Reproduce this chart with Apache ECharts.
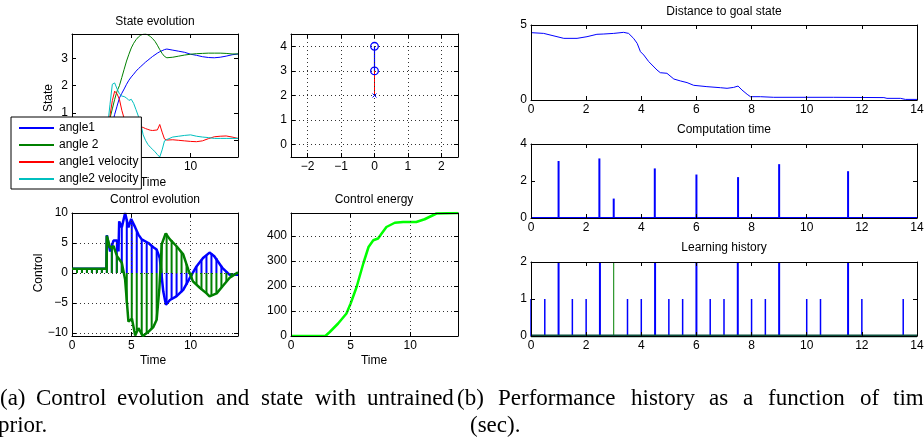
<!DOCTYPE html>
<html><head><meta charset="utf-8">
<script src="https://cdn.jsdelivr.net/npm/echarts@6/dist/echarts.min.js"></script>
<style>html,body{margin:0;padding:0;background:#fff;overflow:hidden}#c{width:924px;height:443px;}</style>
</head><body><div id="c"></div>
<script>
// ---------- data ----------
var stateTime = [0,1,2,2.8,3,3.2,3.4,3.6,3.8,4,4.2,4.4,4.6,4.8,5,5.2,5.4,5.6,5.8,6,6.2,6.4,6.6,6.8,7,7.2,7.4,7.6,7.8,8,8.5,9,9.5,10,10.5,11,11.5,12,12.5,13,13.5,14];
var angle1 = [0,0,0,0.02,0.1,0.3,0.6,0.95,1.25,1.55,1.72,1.88,2.05,2.2,2.32,2.42,2.53,2.62,2.7,2.78,2.86,2.93,3.0,3.07,3.13,3.19,3.24,3.28,3.32,3.34,3.3,3.26,3.22,3.15,3.11,3.06,3.03,3.02,3.04,3.08,3.13,3.16];
var angle2 = [0,0,0,0.05,0.2,0.8,1.15,1.5,1.8,2.0,2.3,2.6,2.9,3.15,3.38,3.55,3.68,3.78,3.85,3.88,3.89,3.86,3.8,3.72,3.62,3.48,3.32,3.18,3.07,3.02,3.04,3.08,3.12,3.15,3.17,3.18,3.19,3.19,3.19,3.18,3.16,3.16];
var angle1Vel = [0,0,0,0.05,0.3,0.9,1.45,1.8,1.7,1.5,1.1,0.8,0.65,0.6,0.58,0.56,0.54,0.52,0.5,0.47,0.43,0.4,0.37,0.36,0.37,0.38,0.58,0.3,0.05,0.01,0.02,0.0,-0.02,-0.04,-0.05,-0.02,0.06,0.13,0.15,0.16,0.12,0.07];
var angle2Vel = [0,0,0,0.05,0.5,1.3,2.05,2.1,1.88,1.7,1.62,1.6,1.55,1.46,1.5,1.35,1.12,0.88,0.62,0.2,0.0,-0.15,-0.25,-0.33,-0.42,-0.52,-0.61,-0.35,-0.02,0.03,0.12,0.15,0.18,0.2,0.15,0.12,0.1,0.07,0.07,0.07,0.07,0.07];
var stateNames = ['angle1','angle 2','angle1 velocity','angle2 velocity'];

var pendulumX = [0,0,0];
var pendulumY = [4,3,2];

var ctrlBlueT = [0,2.9,2.94,3.22,3.5,3.8,3.92,3.98,4.2,4.48,4.76,4.99,5.33,5.6,5.88,6.44,6.86,7.14,7.4,7.7,7.92,8.26,8.8,9.38,9.94,10.5,11.05,11.6,12.0,12.7,13.3,14];
var ctrlBlueV = [0.7,0.7,6.3,3.6,5.4,5.4,3.6,8.6,7.6,10.0,7.6,9.0,7.6,6.4,5.6,5.0,4.3,3.9,2.5,-3.1,-5.3,-4.5,-3.9,-2.8,-0.8,1.1,2.5,3.4,2.8,0.8,-0.3,-0.3];
var ctrlGreenT = [0,2.9,2.94,3.2,3.5,3.8,4.2,4.48,4.76,5.05,5.33,5.6,5.98,6.44,6.86,7.14,7.37,7.57,7.9,8.26,8.8,9.38,9.8,10.2,10.8,11.35,11.6,12.2,12.7,13.3,14];
var ctrlGreenV = [0.7,0.7,6.2,4.2,4.5,2.8,1.7,-1.1,-8.1,-7.6,-10.4,-9.2,-10.5,-9.8,-9.0,-7.8,-2.5,4.8,6.6,5.6,4.5,3.1,0.6,-1.4,-2.5,-3.4,-3.9,-3.4,-2.2,-0.8,0.1];
var stemT = [0.42,0.84,1.26,1.68,2.10,2.52,2.94,3.36,3.78,4.20,4.62,5.04,5.46,5.88,6.30,6.72,7.14,7.56,7.98,8.40,8.82,9.24,9.66,10.08,10.50,10.92,11.34,11.76,12.18,12.60,13.02,13.44,13.86];
var stemBlue = [0.7,0.7,0.7,0.7,0.7,0.7,6.3,5.0,5.4,7.6,9.0,8.8,7.0,5.6,5.2,4.5,3.9,-0.5,-5.2,-4.4,-3.9,-3.2,-2.0,-0.5,1.1,2.2,3.0,3.3,2.5,1.2,0.3,-0.3,-0.3];
var stemGreen = [0.7,0.7,0.7,0.7,0.7,0.7,6.2,4.4,2.8,1.7,-5.0,-7.6,-9.5,-10.4,-10.0,-9.3,-7.8,4.8,6.6,5.5,4.5,3.5,1.5,-0.9,-2.0,-2.8,-3.4,-3.8,-3.3,-2.4,-1.4,-0.7,0.0];

var energyT = [0,2.88,3.25,3.95,4.65,5.0,5.5,6.06,6.5,6.9,7.3,7.6,8.0,8.7,9.4,10.5,11.2,12.2,14];
var energyV = [0,0,16,50,90,130,196,290,356,383,390,410,436,453,456,456,467,490,492];

var distT = [0,0.46,1.19,1.67,2.03,2.39,2.64,3.0,3.36,3.54,3.72,3.85,3.97,4.09,4.27,4.57,4.69,4.93,5.18,5.42,5.66,5.9,6.38,6.87,7.11,7.35,7.51,7.65,7.84,7.96,8.32,8.8,10.98,12.8,12.91,13.4,13.58,14];
var distV = [4.49,4.44,4.11,4.11,4.22,4.38,4.4,4.44,4.51,4.44,4.11,3.78,3.22,3.0,2.56,2.0,1.82,1.78,1.4,1.27,1.16,0.98,0.89,0.82,0.78,0.84,0.93,0.67,0.38,0.22,0.22,0.18,0.18,0.16,0.11,0.11,0.04,0.04];

var compT = [1.0,2.48,3.0,4.49,6.0,7.51,9.0,11.5];
var compV = [3.08,3.22,1.05,2.68,2.35,2.21,2.91,2.53];

var learnBigT = [1.0,2.5,4.5,6.0,7.5,9.0,11.5];
var learnBigV = [2,2,2,2,2,2,2];
var learnGreenT = [3.0];
var learnGreenV = [2];
var learnSmallT = [0,0.5,1.5,2.0,3.5,4.0,5.0,5.5,6.5,7.0,8.0,8.5,10.0,10.5,12.0,13.5];
var learnSmallV = [1,1,1,1,1,1,1,1,1,1,1,1,1,1,1,1];

var titles = ['State evolution','Control evolution','Control energy','Distance to goal state','Computation time','Learning history'];
var captionA1 = ['(a)','Control','evolution','and','state','with','untrained'];
var captionA2 = 'prior.';
var captionB1 = ['(b)','Performance','history','as','a','function','of','tim'];
var captionB2 = '(sec).';

// ---------- helpers ----------
function zip(a, b) { return a.map(function (v, i) { return [v, b[i]]; }); }
var FONT = '"Liberation Sans", Arial, Helvetica, sans-serif';
var SERIF = '"Liberation Serif", "Times New Roman", serif';
function minusFmt(v) { return String(v).replace('-', '\u2212'); }

var grids = [
  {left:72, top:34, width:166, height:123},
  {left:291, top:34, width:167, height:123},
  {left:72, top:213, width:166, height:123},
  {left:291, top:213, width:167, height:123},
  {left:531, top:25, width:386, height:75},
  {left:531, top:144, width:386, height:74},
  {left:531, top:262, width:386, height:74}
];
grids.forEach(function (g) { g.outerBoundsMode = 'none'; g.containLabel = false; g.show = false; });

var axisSpec = [
  {x:{min:0,max:14,interval:5,hideMax:true}, y:{min:-0.61,max:3.89,hideMin:true,hideMax:true}, grid:false},
  {x:{min:-2.5,max:2.5,hideMin:true,hideMax:true}, y:{min:-0.5,max:4.5,hideMin:true,hideMax:true}, grid:true},
  {x:{min:0,max:14,interval:5,hideMax:true}, y:{min:-10.5,max:10,hideMin:true}, grid:true},
  {x:{min:0,max:14,interval:5,hideMax:true}, y:{min:0,max:492,hideMax:true}, grid:true},
  {x:{min:0,max:14,interval:2}, y:{min:0,max:5,interval:5}, grid:false},
  {x:{min:0,max:14,interval:2}, y:{min:0,max:4,interval:2}, grid:false},
  {x:{min:0,max:14,interval:2}, y:{min:0,max:2,interval:1}, grid:false}
];

var xAxes = [], yAxes = [];
axisSpec.forEach(function (s, i) {
  ['x','y'].forEach(function (d) {
    var a = s[d];
    [0,1].forEach(function (mirror) {
      var ax = {
        type:'value', gridIndex:i, min:a.min, max:a.max,
        position: d === 'x' ? (mirror ? 'top' : 'bottom') : (mirror ? 'right' : 'left'),
        axisLine:{show:true, onZero:false, lineStyle:{color:'#000', width:1}},
        axisTick:{show:true, inside:true, length:4, lineStyle:{color:'#000', width:1}},
        axisLabel:{show:!mirror, color:'#000', fontSize:12, fontFamily:FONT, margin:4,
          showMinLabel: !a.hideMin, showMaxLabel: !a.hideMax, formatter:minusFmt},
        splitLine:{show: s.grid && !mirror, lineStyle:{type:[1,3], color:'#333', width:1}},
        z: 3
      };
      if (a.interval !== undefined) ax.interval = a.interval;
      (d === 'x' ? xAxes : yAxes).push(ax);
    });
  });
});

function stemRender(color, width) {
  return function (params, api) {
    var p0 = api.coord([api.value(0), 0]);
    var p1 = api.coord([api.value(0), api.value(1)]);
    return {type:'line', shape:{x1:p0[0], y1:p0[1], x2:p1[0], y2:p1[1]},
      style:{stroke:color, lineWidth:width}};
  };
}
function lineSeries(gi, data, color, width, name) {
  var s = {type:'line', xAxisIndex:2*gi, yAxisIndex:2*gi, data:data, symbol:'none',
    showSymbol:false, lineStyle:{color:color, width:width}, itemStyle:{color:color},
    animation:false, silent:true, z:2};
  if (name) s.name = name;
  return s;
}
function stemSeries(gi, data, color, width, z) {
  return {type:'custom', xAxisIndex:2*gi, yAxisIndex:2*gi, data:data,
    renderItem:stemRender(color, width), animation:false, silent:true, z:z || 2};
}

var series = [];
var stateColors = ['#0000ff','#008000','#ff0000','#00bfbf'];
[angle1, angle2, angle1Vel, angle2Vel].forEach(function (v, k) {
  series.push(lineSeries(0, zip(stateTime, v), stateColors[k], 1, stateNames[k]));
});

// pendulum
series.push(lineSeries(1, [[pendulumX[1], pendulumY[1]], [pendulumX[2], pendulumY[2]]], '#ff0000', 1));
series.push(lineSeries(1, [[pendulumX[0], pendulumY[0]], [pendulumX[1], pendulumY[1]]], '#0000ff', 1.2));
series.push({type:'custom', xAxisIndex:2, yAxisIndex:2, data:[[pendulumX[0], pendulumY[0]], [pendulumX[1], pendulumY[1]]],
  animation:false, silent:true, z:4,
  renderItem:function (params, api) {
    var p = api.coord([api.value(0), api.value(1)]);
    return {type:'circle', shape:{cx:p[0], cy:p[1], r:3.8}, style:{fill:'none', stroke:'#0000ff', lineWidth:1.3}};
  }});
series.push({type:'custom', xAxisIndex:2, yAxisIndex:2, data:[[pendulumX[2], pendulumY[2]]], animation:false, silent:true, z:4,
  renderItem:function (params, api) {
    var p = api.coord([api.value(0), api.value(1)]); var r = 2;
    return {type:'group', children:[
      {type:'line', shape:{x1:p[0]-r, y1:p[1]-r, x2:p[0]+r, y2:p[1]+r}, style:{stroke:'#0000ff', lineWidth:1}},
      {type:'line', shape:{x1:p[0]-r, y1:p[1]+r, x2:p[0]+r, y2:p[1]-r}, style:{stroke:'#0000ff', lineWidth:1}}
    ]};
  }});

// control evolution
series.push(lineSeries(2, zip(ctrlBlueT, ctrlBlueV), '#0000ff', 2.5));
series.push(stemSeries(2, zip(stemT, stemBlue), '#0000ff', 2, 2));
var gl = lineSeries(2, zip(ctrlGreenT, ctrlGreenV), '#008000', 2.5); gl.z = 3;
series.push(gl);
series.push(stemSeries(2, zip(stemT, stemGreen), '#008000', 2, 3));

// energy
series.push(lineSeries(3, zip(energyT, energyV), '#00ff00', 2.5));
// distance
series.push(lineSeries(4, zip(distT, distV), '#0000ff', 1));
// computation
series.push(lineSeries(5, [[0,0],[14,0]], '#0000ff', 2));
series.push(stemSeries(5, zip(compT, compV), '#0000ff', 2));
// learning
series.push(stemSeries(6, zip(learnSmallT, learnSmallV), '#0000ff', 1.5));
series.push(stemSeries(6, zip(learnBigT, learnBigV), '#0000ff', 2));
series.push(stemSeries(6, zip(learnGreenT, learnGreenV), '#008000', 1));
series.push(lineSeries(6, [[0,0],[14,0]], '#0b4f3c', 3));

// texts
var graphics = [];
function txt(t, x, y, opt) {
  opt = opt || {};
  graphics.push({type:'text', x:x, y:y, rotation:opt.rot || 0, z:opt.z || 1, silent:true,
    style:{text:t, fill:'#000', font:(opt.size || 12) + 'px ' + (opt.family || FONT),
      textAlign:opt.align || 'center', textVerticalAlign:'middle', align:opt.align || 'center', verticalAlign:'middle'}});
}
txt(titles[0], 155, 22);
txt(titles[1], 155, 200);
txt(titles[2], 374, 200);
txt(titles[3], 724, 12);
txt(titles[4], 724, 130);
txt(titles[5], 724, 248);
txt('State', 49, 98, {rot:Math.PI/2});
txt('Control', 39, 273, {rot:Math.PI/2});
txt('Time', 153, 183);
txt('Time', 153, 361);
txt('Time', 374, 361);
var posA = [0,36,117,216,261,315,367];
captionA1.forEach(function (w, i) { txt(w, posA[i], 399, {size:23, family:SERIF, align:'left'}); });
txt(captionA2, -2, 426, {size:23, family:SERIF, align:'left'});
var posB = [457,498,631,709,743,768,860,893];
captionB1.forEach(function (w, i) { txt(w, posB[i], 399, {size:23, family:SERIF, align:'left'}); });
txt(captionB2, 470, 426, {size:23, family:SERIF, align:'left'});

var chart = echarts.init(document.getElementById('c'), null, {renderer:'canvas'});
chart.setOption({
  animation:false,
  backgroundColor:'#fff',
  grid:grids,
  xAxis:xAxes,
  yAxis:yAxes,
  legend:{data:stateNames, orient:'vertical', left:11, top:117, itemWidth:35, itemHeight:11, itemGap:5,
    padding:[5,3,4,7], backgroundColor:'#fff', borderColor:'#000', borderWidth:1, borderRadius:0,
    itemStyle:{opacity:0},
    textStyle:{fontSize:12, fontFamily:FONT, color:'#000'}, z:10, selectedMode:false},
  series:series,
  graphic:{elements:graphics}
});
</script></body></html>
